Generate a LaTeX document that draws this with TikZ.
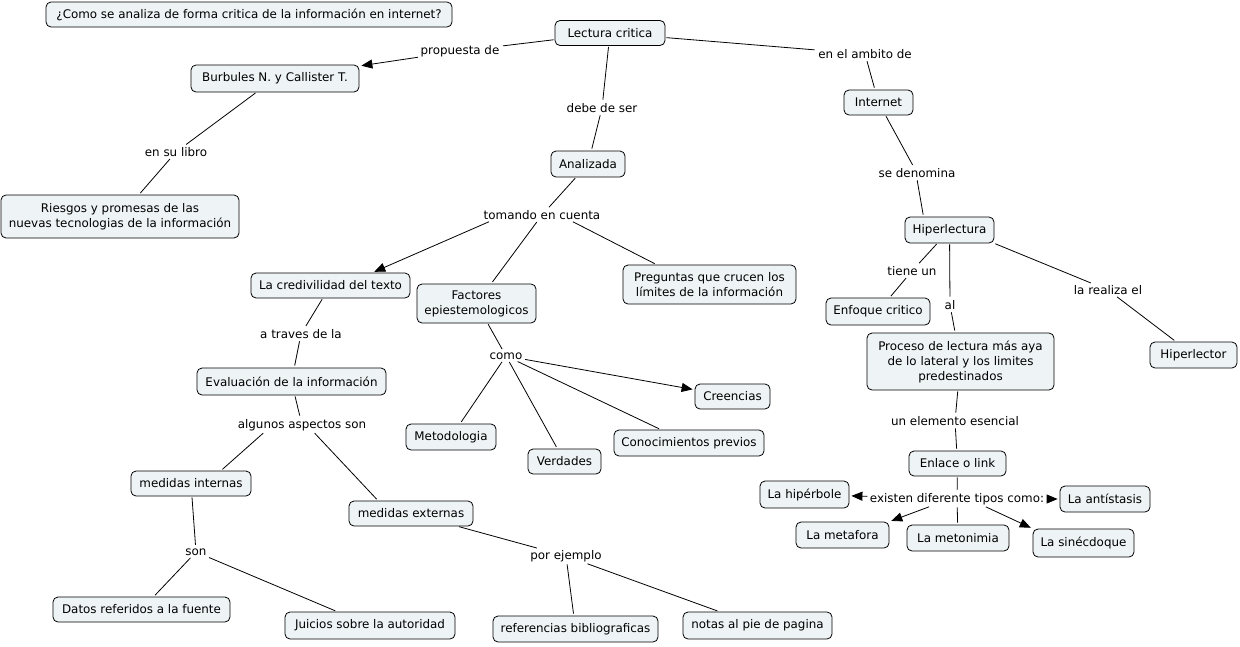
\documentclass[tikz,border=0pt]{standalone}
\usepackage{fontspec}
\setmainfont{DejaVu Sans}
\usetikzlibrary{arrows.meta}
\definecolor{boxfill}{RGB}{238,243,245}
\begin{document}
\begin{tikzpicture}[x=1pt,y=-1pt,
  box/.style={draw=black, line width=0.8pt, rounded corners=5pt, fill=boxfill, inner sep=2pt, font=\fontsize{11.9}{15}\selectfont, align=center},
  lab/.style={fill=white, inner sep=1.5pt, font=\fontsize{11.9}{15}\selectfont},
  ln/.style={line width=0.8pt, shorten <=1pt, shorten >=2pt},
  arr/.style={ln, -{Triangle[length=11pt,width=9pt]}}]
\useasboundingbox (0,0) rectangle (1240,646);
% concepts
\node[box, minimum width=406, minimum height=25] (q) at (249,14.5) {¿Como se analiza de forma critica de la información en internet?};
\node[box, minimum width=110, minimum height=25] (lec) at (610,33) {Lectura critica};
\node[box, minimum width=168, minimum height=27] (bur) at (275,78.5) {Burbules N. y Callister T.};
\node[box, minimum width=238, minimum height=43] (rie) at (120,216.5) {Riesgos y promesas de las\\nuevas tecnologias de la información};
\node[box, minimum width=69, minimum height=25] (int) at (878.5,102.5) {Internet};
\node[box, minimum width=74, minimum height=26] (ana) at (588,164) {Analizada};
\node[box, minimum width=89, minimum height=26] (hip) at (949.5,230) {Hiperlectura};
\node[box, minimum width=159, minimum height=25] (cred) at (330.5,285.5) {La credivilidad del texto};
\node[box, minimum width=119, minimum height=39] (fac) at (476.5,303.5) {Factores\\epiestemologicos};
\node[box, minimum width=173, minimum height=39] (pre) at (709.5,284.5) {Preguntas que crucen los\\límites de la información};
\node[box, minimum width=104, minimum height=27] (enf) at (878,311.5) {Enfoque critico};
\node[box, minimum width=187, minimum height=57] (pro) at (960.5,361.5) {Proceso de lectura más aya\\de lo lateral y los limites\\predestinados};
\node[box, minimum width=87, minimum height=26] (hlr) at (1193.5,355) {Hiperlector};
\node[box, minimum width=189, minimum height=27] (eva) at (291.5,381.5) {Evaluación de la información};
\node[box, minimum width=75, minimum height=25] (cre) at (732.5,396.5) {Creencias};
\node[box, minimum width=90, minimum height=26] (met) at (451,437) {Metodologia};
\node[box, minimum width=150, minimum height=26] (con) at (689,443) {Conocimientos previos};
\node[box, minimum width=73, minimum height=25] (ver) at (564.5,461.5) {Verdades};
\node[box, minimum width=120, minimum height=25] (mi) at (191,483.5) {medidas internas};
\node[box, minimum width=124, minimum height=25] (me) at (411,513.5) {medidas externas};
\node[box, minimum width=97, minimum height=25] (enl) at (957.5,463.5) {Enlace o link};
\node[box, minimum width=89, minimum height=27] (hipb) at (804.5,494.5) {La hipérbole};
\node[box, minimum width=90, minimum height=26] (ant) at (1105,499) {La antístasis};
\node[box, minimum width=93, minimum height=26] (meta) at (842.5,535) {La metafora};
\node[box, minimum width=102, minimum height=26] (meto) at (958,538) {La metonimia};
\node[box, minimum width=101, minimum height=28] (sin) at (1083.5,543) {La sinécdoque};
\node[box, minimum width=177, minimum height=25] (dat) at (141.5,609.5) {Datos referidos a la fuente};
\node[box, minimum width=170, minimum height=27] (jui) at (370,625.5) {Juicios sobre la autoridad};
\node[box, minimum width=165, minimum height=26] (ref) at (575.5,629) {referencias bibliograficas};
\node[box, minimum width=149, minimum height=27] (not) at (757.5,625.5) {notas al pie de pagina};
% linking phrases
\node[lab] (l1) at (460,51) {propuesta de};
\node[lab] (l2) at (865,54) {en el ambito de};
\node[lab] (l3) at (602,108) {debe de ser};
\node[lab] (l4) at (176,152) {en su libro};
\node[lab] (l5) at (917,173) {se denomina};
\node[lab] (l6) at (542,215) {tomando en cuenta};
\node[lab] (l7) at (912,271) {tiene un};
\node[lab] (l8) at (1108,290) {la realiza el};
\node[lab] (l9) at (950,305) {al};
\node[lab] (l10) at (301,334) {a traves de la};
\node[lab] (l11) at (506,356) {como};
\node[lab] (l12) at (302,425) {algunos aspectos son};
\node[lab] (l13) at (955,421) {un elemento esencial};
\node[lab] (l14) at (957,499) {existen diferente tipos como:};
\node[lab] (l15) at (196,552) {son};
\node[lab] (l16) at (566,556) {por ejemplo};
% connectors
\draw[ln] (lec) -- (l1);
\draw[arr] (l1) -- (bur);
\draw[ln] (lec) -- (l2);
\draw[ln] (l2) -- (int);
\draw[ln] (lec) -- (l3);
\draw[ln] (l3) -- (ana);
\draw[ln] (bur) -- (l4);
\draw[ln] (l4) -- (rie);
\draw[ln] (int) -- (l5);
\draw[ln] (l5.south) -- ([xshift=-26pt]hip.north);
\draw[ln] (ana) -- (l6);
\draw[arr] ([xshift=-52pt]l6.south) -- ([xshift=-38pt]cred.north east);
\draw[ln] (l6) -- (fac);
\draw[ln] ([xshift=30pt]l6.south) -- ([xshift=-53pt]pre.north);
\draw[ln] (hip) -- (l7);
\draw[ln] (l7) -- (enf);
\draw[ln] (hip) -- (l9);
\draw[ln] (l9) -- (pro);
\draw[ln] (hip.south east) -- (l8);
\draw[ln] (l8) -- (hlr);
\draw[ln] (cred) -- (l10);
\draw[ln] (l10) -- (eva);
\draw[ln] (fac) -- (l11);
\draw[arr] (l11) -- (cre);
\draw[ln] (l11) -- (met);
\draw[ln] (l11) -- (ver);
\draw[ln] (l11) -- (con);
\draw[ln] (eva) -- (l12);
\draw[ln] ([xshift=-38pt]l12.south) -- ([xshift=30pt]mi.north);
\draw[ln] ([xshift=12pt]l12.south) -- ([xshift=-33pt]me.north);
\draw[ln] (pro) -- (l13);
\draw[ln] (l13) -- (enl);
\draw[ln] (enl) -- (l14);
\draw[arr] (l14) -- (hipb);
\draw[arr] (l14) -- (ant);
\draw[arr] ([xshift=-27pt]l14.south) -- (meta.north east);
\draw[ln] (l14) -- (meto);
\draw[arr] ([xshift=28pt]l14.south) -- (sin.north west);
\draw[ln] (mi) -- (l15);
\draw[ln] (l15) -- (dat);
\draw[ln] (l15) -- (jui);
\draw[ln] (me) -- (l16);
\draw[ln] (l16) -- (ref);
\draw[ln] (l16) -- (not);
\end{tikzpicture}
\end{document}
